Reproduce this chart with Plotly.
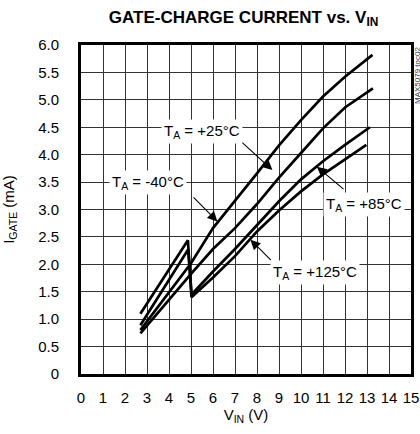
import plotly.graph_objects as go

FONT = "Liberation Sans, Arial, sans-serif"

# ---- data ----
vin_m40 = [2.7, 3.5, 4.5, 5.0, 6.0, 7.0, 8.0, 9.0, 10.0, 11.0, 12.0, 13.25]
ig_m40 = [0.80, 1.22, 1.75, 2.02, 2.66, 3.15, 3.66, 4.17, 4.63, 5.06, 5.42, 5.82]

vin_25 = [2.7, 3.5, 4.5, 5.05, 6.0, 7.0, 8.0, 9.0, 10.0, 11.0, 12.0, 13.27]
ig_25 = [0.74, 1.12, 1.58, 1.85, 2.28, 2.66, 3.10, 3.58, 4.03, 4.48, 4.86, 5.21]

vin_85 = [2.7, 3.5, 4.3, 4.87, 5.03, 6.0, 7.0, 8.0, 9.0, 10.0, 11.0, 12.0, 13.13]
ig_85 = [0.89, 1.40, 1.92, 2.27, 1.45, 1.87, 2.28, 2.72, 3.15, 3.55, 3.88, 4.18, 4.50]

vin_125 = [2.7, 3.5, 4.3, 4.86, 5.02, 6.0, 7.0, 7.68, 8.0, 9.0, 10.0, 11.0, 12.0, 12.97]
ig_125 = [1.10, 1.60, 2.08, 2.44, 1.40, 1.76, 2.15, 2.45, 2.60, 2.98, 3.33, 3.64, 3.92, 4.18]

x_ticks = list(range(0, 16))
y_ticks = [0, 0.5, 1.0, 1.5, 2.0, 2.5, 3.0, 3.5, 4.0, 4.5, 5.0, 5.5, 6.0]
y_ticktext = ["0", "0.5", "1.0", "1.5", "2.0", "2.5", "3.0", "3.5", "4.0", "4.5", "5.0", "5.5", "6.0"]

labels = ["T<sub>A</sub> = -40°C", "T<sub>A</sub> = +25°C", "T<sub>A</sub> = +85°C", "T<sub>A</sub> = +125°C"]
label_pos = [(3.05, 3.50), (5.5, 4.43), (12.85, 3.10), (10.62, 1.86)]
arrow_tail = [(5.05, 3.25), (7.25, 4.25), (12.0, 3.35), (8.7, 2.05)]
arrow_tip = [(6.2, 2.78), (8.7, 3.72), (10.72, 3.78), (7.7, 2.45)]

fig = go.Figure()
for xs, ys in [(vin_m40, ig_m40), (vin_25, ig_25), (vin_85, ig_85), (vin_125, ig_125)]:
    fig.add_trace(go.Scatter(x=xs, y=ys, mode="lines",
                             line=dict(color="black", width=2.7, shape="linear"),
                             showlegend=False, hoverinfo="skip"))

annotations = []
for (tx, ty), (hx, hy) in zip(arrow_tail, arrow_tip):
    annotations.append(dict(x=hx, y=hy, ax=tx, ay=ty, xref="x", yref="y",
                            axref="x", ayref="y", text="", showarrow=True,
                            arrowhead=2, arrowsize=1.8, arrowwidth=1.1,
                            arrowcolor="black", standoff=0))
for lab, (lx, ly) in zip(labels, label_pos):
    annotations.append(dict(x=lx, y=ly, xref="x", yref="y", text=lab,
                            showarrow=False, bgcolor="white", borderpad=2,
                            font=dict(family=FONT, size=15, color="black")))
annotations.append(dict(x=1.0, y=1.0, xref="paper", yref="paper", text="MAX5079 toc02",
                        showarrow=False, textangle=-90, xanchor="left", yanchor="top",
                        xshift=0, font=dict(family=FONT, size=8, color="#333")))

fig.update_layout(
    width=420, height=434,
    margin=dict(l=81, r=9, t=45, b=60, autoexpand=False),
    paper_bgcolor="white", plot_bgcolor="white",
    title=dict(text="<b>GATE-CHARGE CURRENT vs. V<sub>IN</sub></b>", x=0.58, xanchor="center",
               y=0.961, yanchor="middle",
               font=dict(family=FONT, size=17, color="black")),
    font=dict(family=FONT, size=15, color="black"),
    annotations=annotations,
)
fig.update_xaxes(range=[0, 15], tickvals=x_ticks, showgrid=True, gridcolor="#333", gridwidth=1,
                 showline=True, linecolor="black", linewidth=3, mirror=True, zeroline=False,
                 ticks="", ticklabelstandoff=8, automargin=False,
                 tickfont=dict(family=FONT, size=15),
                 title=dict(text="V<sub>IN</sub> (V)", standoff=2, font=dict(family=FONT, size=15)))
fig.update_yaxes(range=[0, 6], tickvals=y_ticks, ticktext=y_ticktext, showgrid=True,
                 gridcolor="#333", gridwidth=1,
                 showline=True, linecolor="black", linewidth=3, mirror=True, zeroline=False,
                 ticks="", ticklabelstandoff=16, automargin=False,
                 tickfont=dict(family=FONT, size=15),
                 title=dict(text="I<sub>GATE</sub> (mA)", standoff=22, font=dict(family=FONT, size=15)))

fig.write_html("out.html", config={"displayModeBar": False},
               post_script="document.body.style.margin='0';document.body.style.overflow='hidden';")
